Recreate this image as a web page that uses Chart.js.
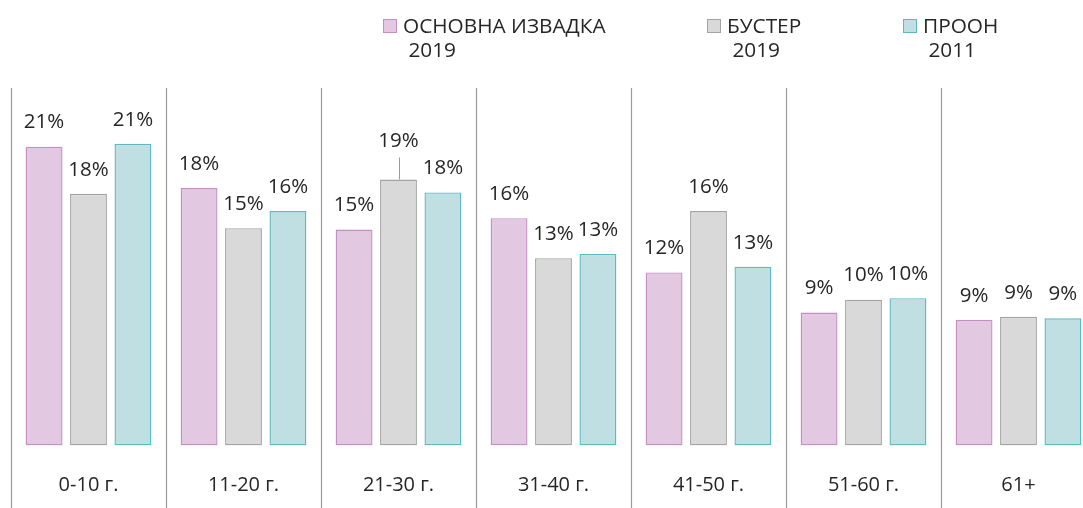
<!DOCTYPE html>
<html>
<head>
<meta charset="utf-8">
<title>Старосна структура</title>
<script src="https://cdn.jsdelivr.net/npm/chart.js@4.4.1/dist/chart.umd.min.js"></script>
<style>
  html, body { margin: 0; padding: 0; background: #fff; overflow: hidden; }
  #wrap { width: 1100px; height: 508px; position: relative; }
</style>
</head>
<body>
<div id="wrap"><canvas id="grafik"></canvas></div>
<script>
// podaci
const kategorije = ['0-10 г.', '11-20 г.', '21-30 г.', '31-40 г.', '41-50 г.', '51-60 г.', '61+'];
const serije = ['ОСНОВНА ИЗВАДКА\n 2019', 'БУСТЕР\n 2019', 'ПРООН\n 2011'];
const osnovna2019 = [20.9, 18.0, 15.1, 15.9, 12.1, 9.3, 8.8];
const buster2019 = [17.6, 15.2, 18.6, 13.1, 16.4, 10.2, 9.0];
const proon2011 = [21.1, 16.4, 17.7, 13.4, 12.5, 10.3, 8.9];

const font = '"Open Sans", "DejaVu Sans", sans-serif';
const tekst = '#262626';

// razdelne linije izmedju kategorija (od vrha grafika do dna slike)
const razdelnici = {
  id: 'razdelnici',
  afterDraw(chart) {
    const x = chart.scales.x, ctx = chart.ctx;
    const top = chart.chartArea.top;
    const korak = x.width / kategorije.length;
    ctx.save();
    ctx.strokeStyle = '#9a9a9a';
    ctx.lineWidth = 1.2;
    for (let i = 0; i <= kategorije.length; i++) {
      const px = Math.round(x.getPixelForValue(i) - korak / 2) + 0.5;
      ctx.beginPath();
      ctx.moveTo(px, top);
      ctx.lineTo(px, chart.height);
      ctx.stroke();
    }
    ctx.restore();
  }
};

// procenti iznad stubova
const etikete = {
  id: 'etikete',
  afterDatasetsDraw(chart, args, opts) {
    const ctx = chart.ctx;
    ctx.save();
    ctx.font = '20.5px ' + font;
    ctx.fillStyle = tekst;
    ctx.textAlign = 'center';
    ctx.textBaseline = 'middle';
    chart.data.datasets.forEach((ds, di) => {
      chart.getDatasetMeta(di).data.forEach((bar, i) => {
        const dodatno = opts.pomeraj[di + '-' + i] || 0;
        const y = bar.y - 24 - dodatno;
        if (dodatno) {
          ctx.strokeStyle = '#9a9a9a';
          ctx.lineWidth = 1;
          ctx.beginPath();
          ctx.moveTo(Math.round(bar.x) + 0.5, y + 16);
          ctx.lineTo(Math.round(bar.x) + 0.5, bar.y);
          ctx.stroke();
        }
        ctx.fillText(Math.round(ds.data[i]) + '%', bar.x, y);
      });
    });
    ctx.restore();
  }
};

// legenda u dva reda
const legenda = {
  id: 'legenda',
  afterDraw(chart, args, opts) {
    const ctx = chart.ctx;
    ctx.save();
    ctx.font = '20.8px ' + font;
    ctx.textBaseline = 'alphabetic';
    ctx.textAlign = 'left';
    chart.data.datasets.forEach((ds, di) => {
      const x = opts.pozicije[di];
      ctx.fillStyle = ds.backgroundColor;
      ctx.strokeStyle = ds.borderColor;
      ctx.lineWidth = 1;
      ctx.fillRect(x + 0.5, 19.5, 13, 13);
      ctx.strokeRect(x + 0.5, 19.5, 13, 13);
      ctx.fillStyle = tekst;
      ds.label.split('\n').forEach((red, r) => {
        ctx.fillText(red, x + 20, 33 + r * 24);
      });
    });
    ctx.restore();
  }
};

new Chart(document.getElementById('grafik'), {
  type: 'bar',
  data: {
    labels: kategorije,
    datasets: [
      { label: serije[0], data: osnovna2019, backgroundColor: '#e2c9e1', borderColor: '#c48fc3', borderWidth: 1.4, borderSkipped: false },
      { label: serije[1], data: buster2019, backgroundColor: '#d9d9d9', borderColor: '#a3a3a3', borderWidth: 1.4, borderSkipped: false },
      { label: serije[2], data: proon2011, backgroundColor: '#bfdfe3', borderColor: '#5dbac2', borderWidth: 1.4, borderSkipped: false }
    ]
  },
  options: {
    responsive: true,
    maintainAspectRatio: false,
    animation: false,
    categoryPercentage: 0.86,
    barPercentage: 0.83,
    layout: { padding: { top: 88, left: 11, right: 4, bottom: 0 } },
    scales: {
      x: {
        grid: { display: false, drawTicks: true, tickLength: 17.5 },
        border: { display: false },
        ticks: { color: tekst, font: { family: font, size: 20 }, padding: 10.5, maxRotation: 0 }
      },
      y: { display: false, min: 0, max: 25 }
    },
    plugins: {
      legend: { display: false },
      tooltip: { enabled: false },
      etikete: { pomeraj: { '1-2': 14 } },
      legenda: { pozicije: [383, 707, 903] }
    }
  },
  plugins: [razdelnici, etikete, legenda]
});
</script>
</body>
</html>
